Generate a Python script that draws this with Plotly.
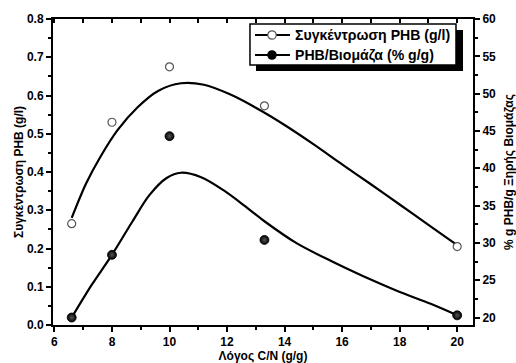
import plotly.graph_objects as go

# ---- data ----
cn_ratio = [6.6, 8.0, 10.0, 13.3, 20.0]
phb_conc = [0.265, 0.530, 0.675, 0.573, 0.205]          # g/l (left axis)
phb_pct = [20.0, 28.4, 44.3, 30.4, 20.3]                # % g/g (right axis)

fit_x_conc = [6.6, 7.1, 7.6, 8.2, 8.9, 9.6, 10.4, 11.2, 12.1, 13.0, 14.0, 15.0, 16.0, 17.0, 18.0, 19.0, 20.0]
fit_y_conc = [0.280, 0.370, 0.440, 0.510, 0.570, 0.612, 0.632, 0.628, 0.603, 0.568, 0.523, 0.473, 0.420, 0.368, 0.315, 0.262, 0.209]

fit_x_pct = [6.6, 7.3, 8.0, 8.7, 9.3, 9.9, 10.4, 11.1, 11.9, 12.6, 13.3, 14.4, 15.6, 16.7, 17.9, 19.1, 20.0]
fit_y_pct = [20.0, 24.4, 28.4, 32.8, 36.4, 38.7, 39.4, 38.8, 37.0, 35.0, 32.9, 30.0, 27.6, 25.6, 23.6, 21.8, 20.3]

x_ticks = [6, 8, 10, 12, 14, 16, 18, 20]

legend_names = ["Συγκέντρωση PHB (g/l)", "PHB/Βιομάζα (% g/g)"]
x_title = "Λόγος C/N (g/g)"
y_title = "Συγκέντρωση PHB (g/l)"
y2_title = "% g PHB/g Ξηρής Βιομάζας"

FONT = "Liberation Sans, Arial, sans-serif"

open_marker = dict(symbol="circle", size=8, color="white", line=dict(color="#555", width=1.2))
full_marker = dict(symbol="circle", size=9, color="black",
                   gradient=dict(type="radial", color="#555555"), line=dict(color="black", width=0.8))

fig = go.Figure()

fig.add_trace(go.Scatter(x=fit_x_conc, y=fit_y_conc, mode="lines",
                         line=dict(color="black", width=2.2, shape="spline", smoothing=0.9),
                         showlegend=False, hoverinfo="skip"))
fig.add_trace(go.Scatter(x=fit_x_pct, y=fit_y_pct, mode="lines", yaxis="y2",
                         line=dict(color="black", width=2.2, shape="spline", smoothing=0.9),
                         showlegend=False, hoverinfo="skip"))
fig.add_trace(go.Scatter(x=cn_ratio, y=phb_conc, mode="markers", marker=open_marker, showlegend=False))
fig.add_trace(go.Scatter(x=cn_ratio, y=phb_pct, mode="markers", yaxis="y2", marker=full_marker, showlegend=False))
fig.add_trace(go.Scatter(x=[None], y=[None], xaxis="x2", showlegend=False, hoverinfo="skip"))

axis_font = dict(family=FONT, size=12, color="black", weight="bold")
common = dict(showgrid=False, zeroline=False, showline=True, linecolor="black", linewidth=2, automargin=False,
              ticks="outside", tickcolor="black", tickwidth=2, ticklen=5, tickfont=axis_font)

X_RANGE = [5.95, 20.55]

fig.update_layout(
    width=516, height=363,
    margin=dict(l=53, r=43, t=19, b=38),
    paper_bgcolor="white", plot_bgcolor="white",
    font=dict(family=FONT, size=12, color="black"),
    showlegend=False,
    xaxis=dict(**common, range=X_RANGE, tickmode="array", tickvals=x_ticks,
               minor=dict(dtick=1, tick0=6, ticks="outside", ticklen=3, tickwidth=1.5, tickcolor="black"),
               title=dict(text=x_title, font=axis_font, standoff=2)),
    xaxis2=dict(overlaying="x", side="top", range=X_RANGE, showgrid=False, zeroline=False, showline=True,
                automargin=False,
                linecolor="black", linewidth=2, ticks="inside", tickmode="linear", tick0=6, dtick=1,
                ticklen=4, tickwidth=1.5, tickcolor="black", showticklabels=False),
    yaxis=dict(**common, range=[0, 0.8], tickmode="linear", tick0=0, dtick=0.1, tickformat=".1f",
               minor=dict(dtick=0.05, tick0=0, ticks="outside", ticklen=3, tickwidth=1.5, tickcolor="black"),
               title=dict(text=y_title, font=axis_font, standoff=1)),
    yaxis2=dict(**common, overlaying="y", side="right", range=[19, 60], tickmode="linear", tick0=20, dtick=5,
                minor=dict(dtick=2.5, tick0=20, ticks="outside", ticklen=3, tickwidth=1.5, tickcolor="black"),
                title=dict(text=y2_title, font=axis_font, standoff=11)),
)

# ---- legend box drawn in paper coordinates (shadow, frame, symbols, text) ----
fig.add_shape(type="rect", xref="paper", yref="paper", x0=0.4833, x1=0.9762, y0=0.830, y1=0.964,
              fillcolor="black", line=dict(width=0), layer="above")
fig.add_shape(type="rect", xref="paper", yref="paper", x0=0.469, x1=0.9595, y0=0.8497, y1=0.9837,
              fillcolor="white", line=dict(color="black", width=1.5), layer="above")

legend_rows = [0.9477, 0.8824]
sym_x0, sym_x1, sym_xc, text_x = 0.481, 0.5643, 0.5214, 0.5714
rx, ry = 4.2 / 420, 4.2 / 306
for row_y, name, filled in zip(legend_rows, legend_names, [False, True]):
    fig.add_shape(type="line", xref="paper", yref="paper", x0=sym_x0, x1=sym_x1, y0=row_y, y1=row_y,
                  line=dict(color="black", width=2), layer="above")
    fig.add_shape(type="circle", xref="paper", yref="paper",
                  x0=sym_xc - rx, x1=sym_xc + rx, y0=row_y - ry, y1=row_y + ry,
                  fillcolor="black" if filled else "white",
                  line=dict(color="black" if filled else "#555", width=1.2), layer="above")
    fig.add_annotation(x=text_x, y=row_y, xref="paper", yref="paper", xanchor="left", yanchor="middle",
                       text="<b>" + name + "</b>", showarrow=False,
                       font=dict(family=FONT, size=14.1, color="black"))

fig.write_html("out.html")
